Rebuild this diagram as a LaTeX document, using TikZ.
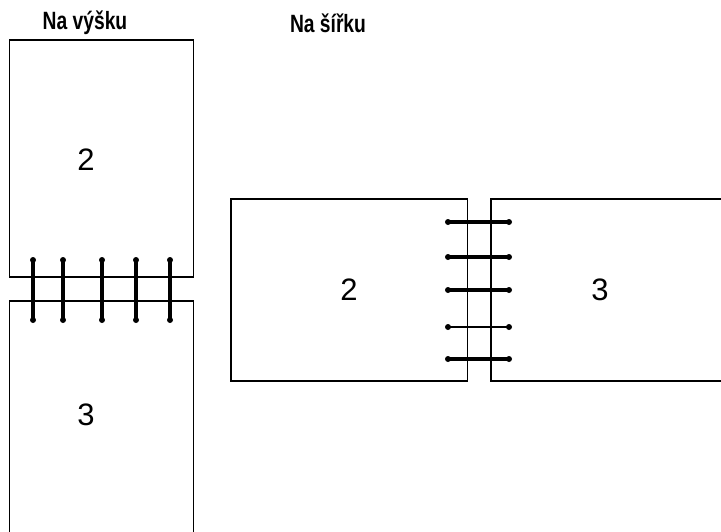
\documentclass[tikz,border=0pt]{standalone}
\usepackage{fontspec}
\setmainfont{Liberation Sans}
\usetikzlibrary{positioning}
\tikzset{
  page/.style ={draw,line width=1.2pt,inner sep=0pt},
  title/.style={font=\bfseries\fontsize{25}{25}\selectfont},
  pagenum/.style={font=\fontsize{31}{31}\selectfont},
  wire/.style ={line width=3.2pt},
  ring/.style ={circle,fill,inner sep=0pt,minimum size=6pt}
}
\newcommand{\narrowtxt}[1]{\scalebox{0.77}[1]{#1}}

\begin{document}
\begin{tikzpicture}[x=1pt,y=-1pt]
  \clip (0,0) rectangle (721,531);
  % portrait
  \node[title] (ttlport) at (85,23) {\narrowtxt{Na výšku}};
  \node[page,minimum width=184pt,minimum height=237pt] (ptop) at (101.5,158.5) {};
  \node[page,minimum width=184pt,minimum height=260pt] (pbot) at (101.5,431) {};
  \node[pagenum] (numptop) at (86,160) {2};
  \node[pagenum] (numpbot) at (86,415) {3};
  \foreach \x in {33,63,102,136,170}{
    \coordinate (wa) at (\x,260);
    \coordinate (wb) at (\x,320);
    \draw[wire] (wa) -- (wb);
    \node[ring] at (wa) {};
    \node[ring] at (wb) {};
  }
  % landscape
  \node[title] (ttlland) at (328,23) {\narrowtxt{Na šířku}};
  \node[page,minimum width=236.5pt,minimum height=182pt] (lleft) at (349.25,290) {};
  \node[page,minimum width=260pt,minimum height=182pt] (lright) at (621,290) {};
  \node[pagenum] (numlleft) at (349,290) {2};
  \node[pagenum] (numlright) at (600,290) {3};
  \foreach \y/\w in {222/3.2,257/3.2,290/3.2,327/2,359/3.2}{
    \coordinate (wa) at (448,\y);
    \coordinate (wb) at (509,\y);
    \draw[line width=\w pt] (wa) -- (wb);
    \node[ring] at (wa) {};
    \node[ring] at (wb) {};
  }
\end{tikzpicture}
\end{document}
